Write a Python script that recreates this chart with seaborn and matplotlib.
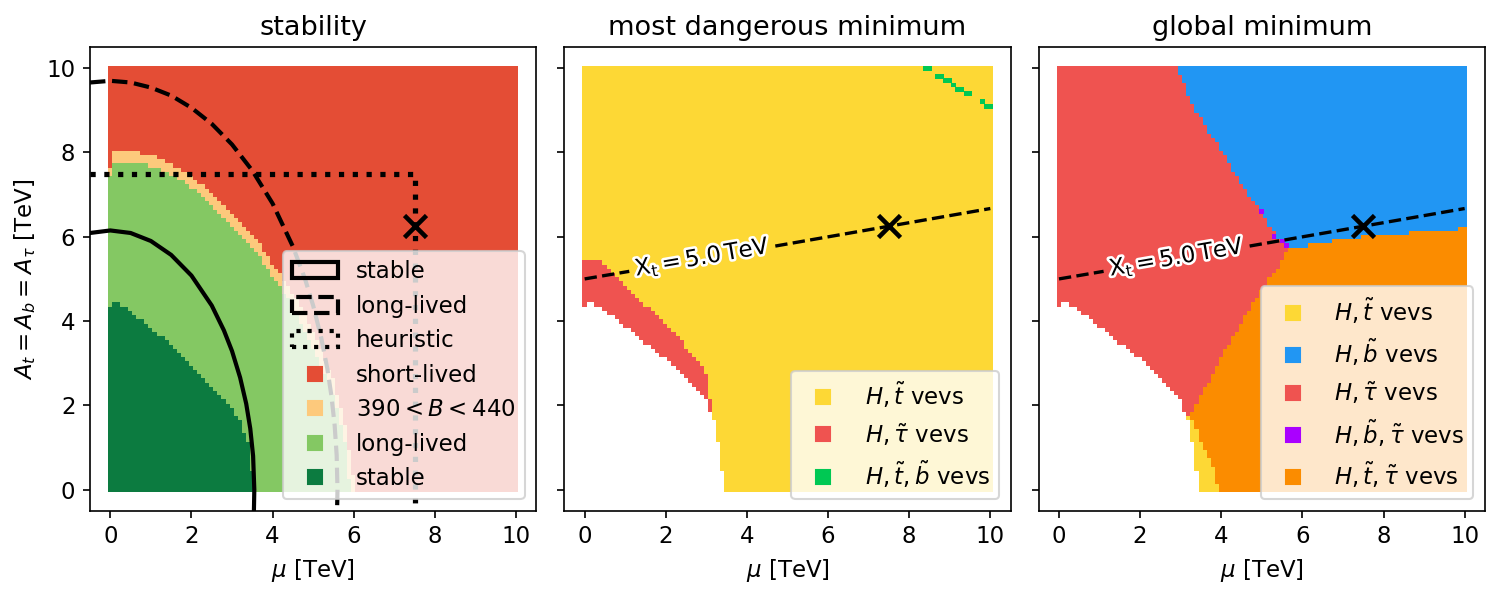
import numpy as np
import pandas as pd
import seaborn as sns
import matplotlib.pyplot as plt
from matplotlib.patches import Patch
from matplotlib.lines import Line2D
import matplotlib.patheffects as pe

# scan grid in mu and A (TeV)
mu_scan = np.round(np.arange(0, 10.01, 0.1), 2)
A_scan = np.round(np.arange(0, 10.01, 0.1), 2)

# --- stability panel: upper edge of each region as a function of mu
stable_mu = [0.0, 0.1, 0.5, 1.0, 1.5, 2.0, 2.5, 3.0, 3.2, 3.4, 3.5, 3.55]
stable_top = [4.4, 4.5, 4.25, 3.85, 3.45, 3.0, 2.45, 1.95, 1.65, 1.15, 0.45, -1]
long_mu = [0.0, 0.1, 0.5, 1.0, 1.5, 2.0, 2.5, 3.0, 3.5, 4.0, 4.5, 5.0, 5.5, 5.8, 5.9, 5.95]
long_top = [7.45, 7.8, 7.8, 7.7, 7.5, 7.2, 6.8, 6.3, 5.8, 5.1, 4.4, 3.4, 2.3, 1.2, 0.3, -1]
band_mu = [0.0, 0.1, 0.5, 1.0, 1.5, 2.0, 2.5, 3.0, 3.5, 4.0, 4.5, 5.0, 5.5, 5.8, 6.0, 6.05]
band_top = [7.65, 8.05, 8.05, 7.95, 7.75, 7.45, 7.05, 6.6, 6.1, 5.4, 4.7, 3.75, 2.65, 1.6, 0.4, -1]

# heuristic bounds
ell_stable_mu = [-0.5, 0.0, 0.5, 1.0, 1.5, 2.0, 2.5, 2.8, 3.0, 3.2, 3.35, 3.45, 3.52, 3.55, 3.54]
ell_stable_A = [6.09, 6.15, 6.09, 5.90, 5.57, 5.08, 4.37, 3.78, 3.29, 2.66, 2.04, 1.45, 0.80, 0.0, -0.5]
ell_long_mu = [-0.5, 0.0, 0.5, 1.0, 1.5, 2.0, 2.5, 3.0, 3.5, 4.0, 4.5, 4.8, 5.0, 5.2, 5.35,
               5.45, 5.53, 5.58, 5.6, 5.59]
ell_long_A = [9.66, 9.7, 9.66, 9.54, 9.35, 9.06, 8.68, 8.19, 7.57, 6.79, 5.77, 5.00, 4.37, 3.60,
              2.87, 2.23, 1.53, 0.82, 0.0, -0.5]
heur_mu = [-0.5, 7.5, 7.5]
heur_A = [7.5, 7.5, -0.5]
bench_mu = [7.5]
bench_A = [6.25]

# --- vev panels: lower edge of the scanned region
lower_mu = [0.0, 0.1, 0.5, 1.0, 1.5, 2.0, 2.5, 3.0, 3.1, 3.2, 3.3, 3.4, 3.5]
lower_A = [4.4, 4.5, 4.25, 3.9, 3.5, 3.12, 2.7, 2.2, 1.9, 1.7, 1.15, 0.5, 0.0]

# most dangerous minimum
tau_up_mu = [0.0, 0.3, 1.0, 1.5, 2.0, 2.5, 3.0, 3.1, 3.15, 3.2]
tau_up_A = [5.5, 5.5, 4.85, 4.4, 3.95, 3.4, 2.8, 2.2, 1.8, -1]
tb_mu = [8.4, 8.5, 8.7, 8.8, 8.9, 9.0, 9.1, 9.2, 9.3, 9.4, 9.5, 9.8, 9.9, 10.0]
tb_A = [10.0, 10.0, 9.8, 9.8, 9.7, 9.7, 9.6, 9.5, 9.5, 9.4, 9.4, 9.2, 9.1, 9.1]

# global minimum
tau_edge_A = [1.6, 1.8, 2.5, 3.3, 4.1, 4.95, 5.4, 5.8, 6.0, 6.5, 7.0, 7.5, 8.0, 8.5, 9.0, 9.5, 10.0]
tau_edge_mu = [3.0, 3.25, 3.65, 4.1, 4.6, 5.15, 5.5, 5.7, 5.4, 5.05, 4.7, 4.35, 4.05, 3.7, 3.4, 3.15, 2.95]
bo_mu = [5.5, 5.8, 6.4, 7.25, 8.1, 8.9, 9.7, 10.0]
bo_A = [5.7, 5.7, 5.85, 5.98, 6.06, 6.12, 6.18, 6.22]
t_edge_A = [0.0, 0.4, 0.9, 1.2, 1.6, 1.8]
t_edge_mu = [3.95, 3.85, 3.65, 3.5, 3.35, 3.2]
btau_mu = [5.0, 5.3, 5.5, 5.6]
btau_A = [6.6, 6.0, 5.9, 5.8]

# X_t = 5 TeV contour (broken for label)
xt_mu = [0.0, 1.1, 4.7, 10.0]
xt_A = [5.0, 5.18, 5.78, 6.67]

MU, AA = np.meshgrid(mu_scan, A_scan)
MU = MU.ravel()
AA = AA.ravel()
eps = 1e-6

# stability classes
stab = np.full(MU.size, 'short-lived', dtype=object)
stab[AA < np.interp(MU, band_mu, band_top) - eps] = 'band'
stab[AA < np.interp(MU, long_mu, long_top) - eps] = 'long-lived'
stab[AA < np.interp(MU, stable_mu, stable_top) - eps] = 'stable'
df_stab = pd.DataFrame({'mu': MU, 'A': AA, 'cls': stab})

valid = AA >= np.interp(MU, lower_mu, lower_A) - eps

# most dangerous
mdm = np.where(AA < np.interp(MU, tau_up_mu, tau_up_A) - eps, 'tau', 't')
df_mdm = pd.DataFrame({'mu': MU, 'A': AA, 'cls': mdm})[valid]
df_mdm = pd.concat([df_mdm, pd.DataFrame({'mu': tb_mu, 'A': tb_A, 'cls': 'tb'})])

# global
glob = np.where(AA > np.interp(MU, bo_mu, bo_A) + eps, 'b', 'ttau').astype(object)
tmask = (AA < 1.75) & (MU < np.interp(AA, t_edge_A, t_edge_mu) - eps)
glob[tmask] = 't'
glob[MU < np.interp(AA, tau_edge_A, tau_edge_mu) - eps] = 'tau'
df_glob = pd.DataFrame({'mu': MU, 'A': AA, 'cls': glob})[valid]
df_glob = pd.concat([df_glob, pd.DataFrame({'mu': btau_mu, 'A': btau_A, 'cls': 'btau'})])

stab_pal = {'short-lived': '#e44d35', 'band': '#fdc97c', 'long-lived': '#84c863',
            'stable': '#0c7b40'}
vev_pal = {'t': '#fdd835', 'b': '#2196f3', 'tau': '#ef5350', 'btau': '#aa00ff',
           'ttau': '#fb8c00', 'tb': '#00c853'}
vev_lab = {'t': r'$H, \tilde{t}$ vevs', 'b': r'$H, \tilde{b}$ vevs',
           'tau': r'$H, \tilde{\tau}$ vevs', 'btau': r'$H, \tilde{b}, \tilde{\tau}$ vevs',
           'ttau': r'$H, \tilde{t}, \tilde{\tau}$ vevs', 'tb': r'$H, \tilde{t}, \tilde{b}$ vevs'}

plt.rcParams['font.size'] = 11
fig, axes = plt.subplots(1, 3, figsize=(1508 / 150, 596 / 150), dpi=150, sharey=True)
fig.subplots_adjust(left=0.0597, right=0.9847, bottom=0.143, top=0.921, wspace=0.063)

sq = dict(marker='s', s=5.5, linewidth=0, legend=False)

# --- stability
ax = axes[0]
sns.scatterplot(data=df_stab, x='mu', y='A', hue='cls', palette=stab_pal, ax=ax, **sq)
ax.plot(ell_stable_mu, ell_stable_A, 'k-', lw=2)
ax.plot(ell_long_mu, ell_long_A, 'k--', lw=2)
ax.plot(heur_mu, heur_A, 'k:', lw=2.5)
ax.plot(bench_mu, bench_A, 'kx', ms=11, mew=2.2)
handles = [Patch(fill=False, edgecolor='k', lw=2, ls='-', label='stable'),
           Patch(fill=False, edgecolor='k', lw=2, ls='--', label='long-lived'),
           Patch(fill=False, edgecolor='k', lw=2, ls=':', label='heuristic')]
for key, lab in [('short-lived', 'short-lived'), ('band', r'$390 < B < 440$'),
                 ('long-lived', 'long-lived'), ('stable', 'stable')]:
    handles.append(Line2D([], [], ls='', marker='s', ms=6.5, color=stab_pal[key], label=lab))
ax.legend(handles=handles, loc='lower right')
ax.set_title('stability', fontsize=13)
ax.set_ylabel(r'$A_t = A_b = A_\tau$ [TeV]')


def vev_panel(ax, df, order, title):
    sns.scatterplot(data=df, x='mu', y='A', hue='cls', palette=vev_pal, ax=ax, **sq)
    ax.plot(xt_mu[:2], xt_A[:2], 'k--', lw=1.6)
    ax.plot(xt_mu[2:], xt_A[2:], 'k--', lw=1.6)
    ax.text(2.9, 5.5, r'$\mathrm{X_t = 5.0\,TeV}$', rotation=9.8, ha='center', va='center',
            rotation_mode='anchor', fontsize=11,
            path_effects=[pe.withStroke(linewidth=2.5, foreground='w')])
    ax.plot(bench_mu, bench_A, 'kx', ms=11, mew=2.2)
    hs = [Line2D([], [], ls='', marker='s', ms=6.5, color=vev_pal[k], label=vev_lab[k])
          for k in order]
    ax.legend(handles=hs, loc='lower right')
    ax.set_title(title, fontsize=13)
    ax.set_ylabel('')


vev_panel(axes[1], df_mdm, ['t', 'tau', 'tb'], 'most dangerous minimum')
vev_panel(axes[2], df_glob, ['t', 'b', 'tau', 'btau', 'ttau'], 'global minimum')

for ax in axes:
    ax.set_xlim(-0.5, 10.5)
    ax.set_ylim(-0.5, 10.5)
    ax.set_xticks([0, 2, 4, 6, 8, 10])
    ax.set_yticks([0, 2, 4, 6, 8, 10])
    ax.set_xlabel(r'$\mu$ [TeV]')

fig.savefig('out.png', dpi=150)
